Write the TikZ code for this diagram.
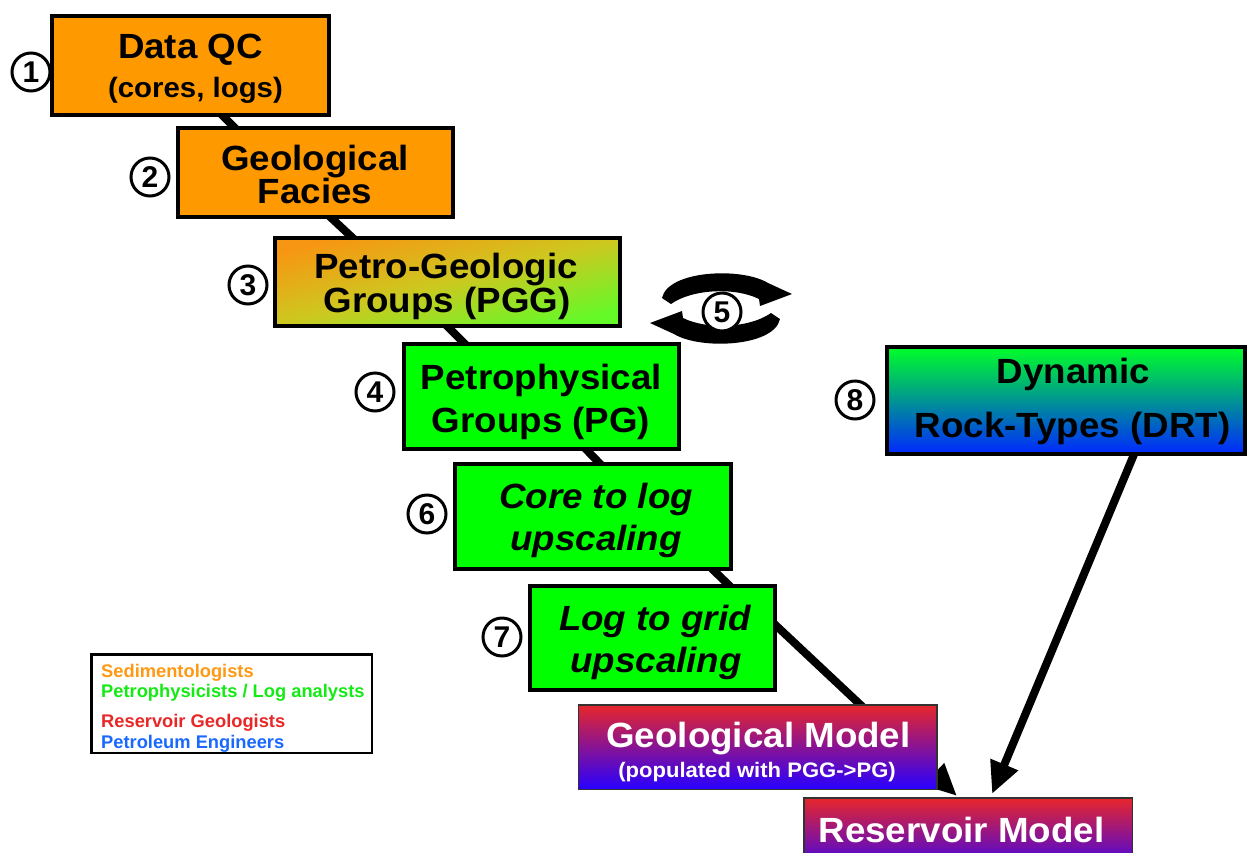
\documentclass[tikz,border=0pt]{standalone}
\usepackage{fontspec}
\setmainfont{Liberation Sans}[FakeStretch=1.05]
\newfontfamily\numfont{Liberation Sans Bold}
\usetikzlibrary{arrows.meta,calc,backgrounds}
\definecolor{orng}{RGB}{255,153,0}
\definecolor{grn}{RGB}{0,255,0}
\definecolor{pggA}{RGB}{247,150,18}
\definecolor{pggM}{RGB}{205,200,32}
\definecolor{pggB}{RGB}{100,250,40}
\definecolor{drtA}{RGB}{0,255,40}
\definecolor{drtB}{RGB}{0,40,255}
\definecolor{gmA}{RGB}{232,38,42}
\definecolor{gmB}{RGB}{40,0,255}
\definecolor{legO}{RGB}{255,153,20}
\definecolor{legG}{RGB}{20,235,20}
\definecolor{legR}{RGB}{232,40,40}
\definecolor{legB}{RGB}{25,105,255}
\begin{document}
\begin{tikzpicture}[x=1pt,y=-1pt,
  box/.style={draw=black, line width=4pt, inner sep=0pt},
  mbox/.style={draw=black!80, line width=1.5pt, inner sep=0pt, top color=gmA, bottom color=gmB},
  hd/.style={font=\fontsize{35}{35}\selectfont\bfseries, inner sep=0pt, anchor=base},
  hdi/.style={font=\fontsize{35}{35}\selectfont\bfseries\itshape, inner sep=0pt, anchor=base},
  num/.style={circle, draw=black, line width=3pt, fill=white, minimum size=38pt, inner sep=0pt, font=\numfont\fontsize{30}{30}\selectfont},
  conn/.style={line width=8pt, black},
  arr/.style={line width=8pt, black, -{Triangle[length=32pt,width=28pt]}},
  leg/.style={font=\numfont\fontsize{18.3}{18.3}\selectfont, anchor=base west, inner sep=0pt}]
\clip (0,0) rectangle (1248,852);

% boxes
\node[box, fill=orng, minimum width=277pt, minimum height=99pt] (b1) at (190.5,65.5) {};
\node[box, fill=orng, minimum width=275pt, minimum height=89pt] (b2) at (315.5,172.5) {};
\node[box, top color=pggA, bottom color=pggB, middle color=pggM, shading angle=14, minimum width=345pt, minimum height=88pt] (b3) at (447.5,282) {};
\node[box, fill=grn, minimum width=275pt, minimum height=105pt] (b4) at (541.5,396.5) {};
\node[box, fill=grn, minimum width=276pt, minimum height=105pt] (b6) at (593,516.5) {};
\node[box, fill=grn, minimum width=245pt, minimum height=104pt] (b7) at (652.5,638) {};
\node[box, top color=drtA, bottom color=drtB, minimum width=358pt, minimum height=107pt] (b8) at (1066,400.5) {};
\node[mbox, minimum width=358.5pt, minimum height=84.5pt] (gm) at (757.5,747) {};
\node[mbox, minimum width=328.5pt, minimum height=80pt] (rm) at (968,837.75) {};

% texts
\node[hd] (t1a) at (190.5,58) {Data QC};
\node[hd, font=\fontsize{28}{28}\selectfont\bfseries] (t1b) at (195.5,97) {(cores, logs)};
\node[hd] (t2a) at (315,170) {Geological};
\node[hd] (t2b) at (315,203) {Facies};
\node[hd] (t3a) at (446,278) {Petro-Geologic};
\node[hd] (t3b) at (447,312) {Groups (PGG)};
\node[hd] (t4a) at (541.5,389) {Petrophysical};
\node[hd] (t4b) at (541,432) {Groups (PG)};
\node[hdi] (t6a) at (596,508) {Core to log};
\node[hdi] (t6b) at (596,550) {upscaling};
\node[hdi] (t7a) at (655,630) {Log to grid};
\node[hdi] (t7b) at (656,672) {upscaling};
\node[hd] (t8a) at (1073.5,383) {Dynamic};
\node[hd] (t8b) at (1072.5,437) {Rock-Types (DRT)};
\node[hd, text=white] (tga) at (758.5,747) {Geological Model};
\node[hd, text=white, font=\fontsize{21}{21}\selectfont\bfseries] (tgb) at (757,777) {(populated with PGG->PG)};
\node[hd, text=white] (tra) at (961.5,842) {Reservoir Model};

% connectors behind the boxes
\begin{scope}[on background layer]
\fill[white] (0,0) rectangle (1248,852);
\draw[conn] ($(b1)+(28.5,46.5)$) -- ($(b2)+(-68.5,-32.5)$);
\draw[conn] ($(b2)+(10.5,40.5)$) -- ($(b3)+(-91.5,-41)$);
\draw[conn] ($(b3)+(-6.5,38)$) -- ($(b4)+(-70.5,-46.5)$);
\draw[conn] ($(b4)+(38.5,46.5)$) -- ($(b6)+(13,-46.5)$);
\draw[conn] ($(b6)+(113,46.5)$) -- ($(b7)+(83.5,-46)$);
\draw[conn] ($(b7)+(115.5,-20)$) -- ($(gm)+(108.5,-37)$);
\draw[arr] ($(gm)+(108.5,-37)$) -- ($(rm)+(-11,-41.75)$);
\draw[arr] ($(b8)+(74,39.5)$) -- ($(rm)+(24,-43.75)$);
\end{scope}

% iteration arrows around 5
\fill[black] (662,298) .. controls (668,270) and (742,267) .. (768,283) -- (792,294) -- (760,306) -- (759,299) .. controls (735,287) and (692,289) .. (671,304) -- cycle;
\fill[black, rotate around={180:(721,308.5)}] (662,298) .. controls (668,270) and (742,267) .. (768,283) -- (792,294) -- (760,306) -- (759,299) .. controls (735,287) and (692,289) .. (671,304) -- cycle;

% numbered circles
\node[num] (n1) at (31,72) {1};
\node[num] (n2) at (150,177) {2};
\node[num] (n3) at (248,285) {3};
\node[num] (n4) at (375,392) {4};
\node[num] (n5) at (722,312) {5};
\node[num] (n6) at (427,514) {6};
\node[num] (n7) at (502,637) {7};
\node[num] (n8) at (855,400) {8};

% legend
\node[draw=black, line width=2.5pt, fill=white, minimum width=280.5pt, minimum height=98.5pt, inner sep=0pt] (leg) at (231.5,703.5) {};
\node[leg, text=legO] (l1) at (101,677) {Sedimentologists};
\node[leg, text=legG] (l2) at (101,697) {Petrophysicists / Log analysts};
\node[leg, text=legR] (l3) at (101,727) {Reservoir Geologists};
\node[leg, text=legB] (l4) at (101,748) {Petroleum Engineers};
\end{tikzpicture}
\end{document}
